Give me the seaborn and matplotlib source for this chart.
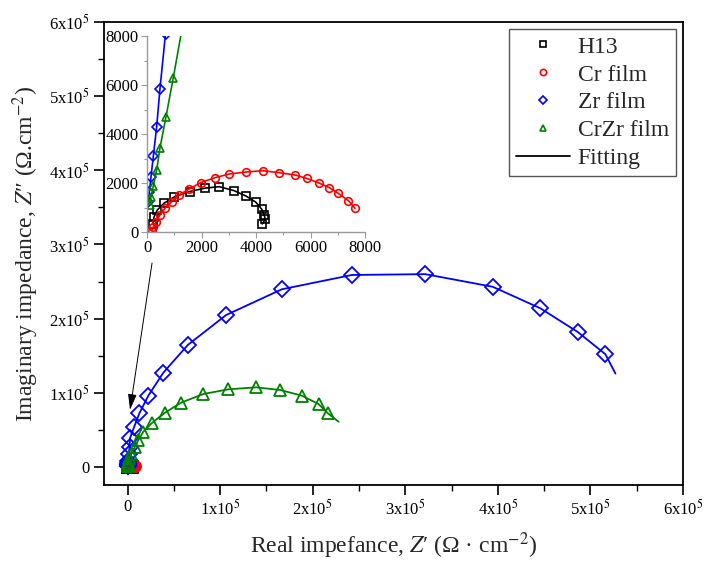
import matplotlib
matplotlib.use('Agg')
import matplotlib.pyplot as plt
import seaborn as sns
import pandas as pd
from matplotlib.lines import Line2D
from matplotlib.ticker import MultipleLocator, FixedLocator, FixedFormatter

# ---------------- data (ohm.cm^2) ----------------
h13_x = [210, 260, 380, 620, 1000, 1560, 2130, 2650, 3190, 3630, 3990, 4210, 4300, 4340, 4230]
h13_y = [330, 620, 900, 1170, 1430, 1650, 1790, 1850, 1690, 1470, 1220, 930, 700, 520, 330]

cr_x = [170, 232, 330, 477, 661, 905, 1187, 1554, 1969, 2495, 3021, 3633, 4245, 4844, 5431,
        5859, 6312, 6691, 7021, 7388, 7633]
cr_y = [60, 190, 422, 694, 966, 1238, 1520, 1760, 2014, 2218, 2367, 2449, 2503, 2422, 2327,
        2190, 2000, 1810, 1578, 1279, 966]

zr_x = [49, 85, 147, 232, 354, 476, 680, 1300, 2200, 2700, 7000, 12800, 22500, 38700, 65100,
        106500, 166700, 242400, 321600, 394400, 445900, 486300, 516200]
zr_y = [1235, 1642, 2252, 3094, 4288, 5848, 8100, 17000, 27400, 39000, 53500, 72400, 96200,
        127200, 164500, 204900, 239600, 258900, 260000, 243000, 214000, 182000, 152000]
zr_fit_end = (527000, 126000)

crzr_x = [110, 147, 232, 354, 476, 696, 965, 1800, 3500, 8100, 11700, 17100, 26800, 40500,
          57800, 81900, 109000, 138900, 164900, 188300, 206300, 216400]
crzr_y = [1100, 1438, 1886, 2524, 3433, 4695, 6296, 11500, 17500, 27400, 36400, 47600, 59800,
          73200, 86700, 98400, 104700, 107400, 103800, 96200, 84900, 72400]
crzr_fit_end = (228000, 61000)

labels = ['H13', 'Cr film', 'Zr film', 'CrZr film']
colors = ['#000000', '#ff0000', '#0000ff', '#008000']
markers = ['s', 'o', 'D', '^']

main_ticks = [0, 1e5, 2e5, 3e5, 4e5, 5e5, 6e5]
main_ticklabels = ['0', r'1x10$^5$', r'2x10$^5$', r'3x10$^5$', r'4x10$^5$', r'5x10$^5$', r'6x10$^5$']
inset_ticks = [0, 2000, 4000, 6000, 8000]

# ---------------- style ----------------
sns.set_theme(style='ticks')
plt.rcParams['font.family'] = ['Liberation Serif', 'DejaVu Serif']
plt.rcParams['mathtext.fontset'] = 'stix'

fig = plt.figure(figsize=(7.05, 5.67), dpi=100)
W, H = 705, 567
ax = fig.add_axes([104 / W, 82 / H, 579 / W, 463 / H])
axin = fig.add_axes([147 / W, 335 / H, 218 / W, 196 / H])

series = [
    (h13_x, h13_y, None),
    (cr_x, cr_y, None),
    (zr_x, zr_y, zr_fit_end),
    (crzr_x, crzr_y, crzr_fit_end),
]


def draw(a, ms, mew, lw):
    for (xs, ys, end), c, m in zip(series, colors, markers):
        fx = list(xs) + ([end[0]] if end else [])
        fy = list(ys) + ([end[1]] if end else [])
        fit = pd.DataFrame({'x': fx, 'y': fy})
        pts = pd.DataFrame({'x': xs, 'y': ys})
        sns.lineplot(data=fit, x='x', y='y', sort=False, estimator=None, ax=a,
                     color=c, lw=lw)
        sns.lineplot(data=pts, x='x', y='y', sort=False, estimator=None, ax=a,
                     color=c, ls='', marker=m, markersize=ms,
                     markerfacecolor='none', markeredgecolor=c, markeredgewidth=mew)


draw(ax, 8, 1.3, 1.3)
draw(axin, 5.5, 1.2, 1.2)

# ---------------- main axes ----------------
ax.set_xlim(-25400, 6e5)
ax.set_ylim(-24300, 6e5)
ax.xaxis.set_major_locator(FixedLocator(main_ticks))
ax.xaxis.set_major_formatter(FixedFormatter(main_ticklabels))
ax.yaxis.set_major_locator(FixedLocator(main_ticks))
ax.yaxis.set_major_formatter(FixedFormatter(main_ticklabels))
ax.xaxis.set_minor_locator(MultipleLocator(0.5e5))
ax.yaxis.set_minor_locator(MultipleLocator(0.5e5))
for s in ax.spines.values():
    s.set_color('black')
    s.set_linewidth(1.3)
ax.tick_params(which='major', direction='out', length=7, width=1.2, colors='black',
               labelsize=12, pad=3)
ax.tick_params(which='minor', direction='out', length=4, width=1.0, colors='black')
ax.set_xlabel("Real impefance, $Z$\u2032 (Ω · cm$^{-2}$)", fontsize=17, labelpad=8)
ax.set_ylabel("Imaginary impedance, $Z$\u2033 (Ω.cm$^{-2}$)", fontsize=17, labelpad=6)
ax.set_facecolor('white')

ax.annotate('', xy=(2700, 77000), xytext=(26500, 275000),
            arrowprops=dict(arrowstyle='-|>,head_length=0.8,head_width=0.22',
                            color='black', lw=0.7, shrinkA=0, shrinkB=0))

handles = [Line2D([], [], ls='', marker=m, ms=4.5, mfc='none', mec=c, mew=1.2, label=l)
           for m, c, l in zip(markers, colors, labels)]
handles.append(Line2D([], [], color='black', lw=1.3, label='Fitting'))
leg = ax.legend(handles=handles, loc='upper right', fontsize=17, frameon=True,
                fancybox=False, edgecolor='#555555', framealpha=1, borderpad=0.3,
                labelspacing=0.27, handlelength=2.3, handletextpad=0.3,
                borderaxespad=0.3)
leg.get_frame().set_linewidth(1.0)

# ---------------- inset ----------------
axin.set_xlim(0, 8000)
axin.set_ylim(0, 8000)
axin.xaxis.set_major_locator(FixedLocator(inset_ticks))
axin.yaxis.set_major_locator(FixedLocator(inset_ticks))
axin.xaxis.set_minor_locator(MultipleLocator(1000))
axin.yaxis.set_minor_locator(MultipleLocator(1000))
axin.set_facecolor('white')
axin.spines['top'].set_visible(False)
axin.spines['right'].set_visible(False)
for k in ['left', 'bottom']:
    axin.spines[k].set_color('#9a9a9a')
    axin.spines[k].set_linewidth(1.0)
axin.tick_params(which='major', direction='out', length=4, width=0.8, color='#9a9a9a',
                 labelcolor='black', labelsize=12, pad=2)
axin.tick_params(which='minor', direction='out', length=2.5, width=0.8, color='#9a9a9a')
axin.set_xlabel('')
axin.set_ylabel('')

fig.savefig('out.png', dpi=100)
